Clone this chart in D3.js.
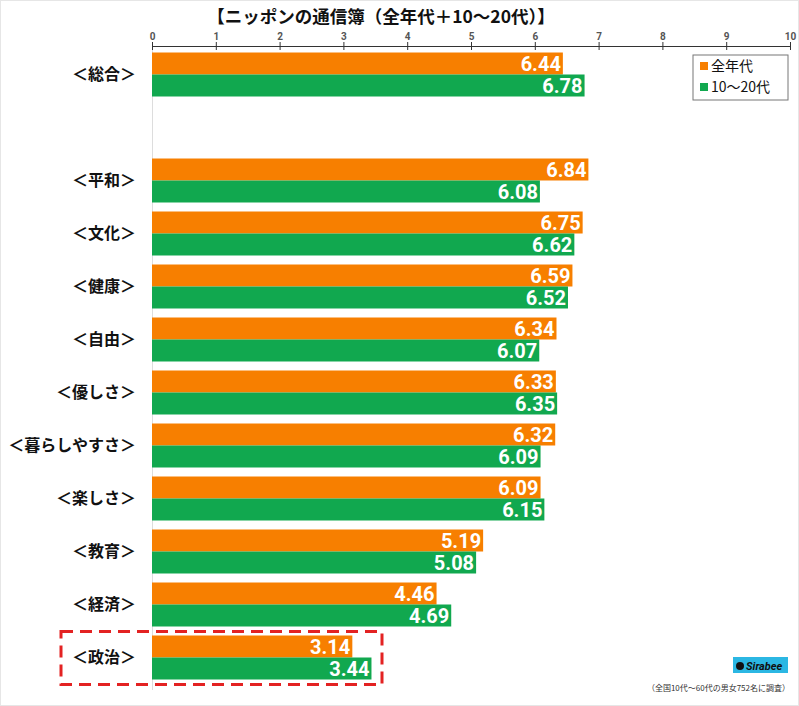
<!DOCTYPE html>
<html>
<head>
<meta charset="utf-8">
<script src="https://cdnjs.cloudflare.com/ajax/libs/d3/7.8.5/d3.min.js"></script>
<style>
body { margin: 0; background: #fff; }
text { font-family: "Noto Sans CJK JP", "Noto Sans", sans-serif; }
</style>
</head>
<body>
<div id="chart"></div>
<script>
// categories ("" is the blank slot under the total)
var categories = ["＜総合＞", "", "＜平和＞", "＜文化＞", "＜健康＞", "＜自由＞", "＜優しさ＞",
    "＜暮らしやすさ＞", "＜楽しさ＞", "＜教育＞", "＜経済＞", "＜政治＞"];
var allAges = [6.44, null, 6.84, 6.75, 6.59, 6.34, 6.33, 6.32, 6.09, 5.19, 4.46, 3.14];
var young = [6.78, null, 6.08, 6.62, 6.52, 6.07, 6.35, 6.09, 6.15, 5.08, 4.69, 3.44];
var seriesNames = ["全年代", "10〜20代"];
var ticks = [0, 1, 2, 3, 4, 5, 6, 7, 8, 9, 10];

var W = 799, H = 706;
var colors = ["#f77f00", "#11a84f"];

var svg = d3.select("#chart").append("svg")
    .attr("width", W).attr("height", H);

svg.append("rect").attr("x", 0.5).attr("y", 0.5).attr("width", W - 1).attr("height", H - 1)
    .attr("fill", "#fff").attr("stroke", "#e6e6e6");

var x = d3.scaleLinear().domain([0, 10]).range([152, 790]);
var y = d3.scaleBand().domain(d3.range(categories.length))
    .range([48, 48 + 53 * categories.length]).paddingInner(0.17).paddingOuter(0.085);
var sub = d3.scaleBand().domain([0, 1]).range([0, y.bandwidth()]);

// title
svg.append("text").attr("x", 381).attr("y", 23).attr("text-anchor", "middle")
    .attr("font-size", 17.5).attr("font-weight", "bold").attr("fill", "#111")
    .text("【ニッポンの通信簿（全年代＋10〜20代）】");

// left light axis line
svg.append("line").attr("x1", 152.5).attr("x2", 152.5).attr("y1", 46).attr("y2", 690)
    .attr("stroke", "#ddd");

// top axis
var axis = svg.append("g").attr("transform", "translate(0,46)")
    .call(d3.axisTop(x).tickValues(ticks).tickSize(4).tickPadding(2).tickSizeOuter(0));
axis.select(".domain").attr("stroke", "#333").attr("stroke-width", 1.2);
axis.selectAll(".tick line").attr("stroke", "#333").attr("y2", 4).attr("y1", -4);
axis.selectAll(".tick text").attr("font-size", 10).attr("font-weight", "bold")
    .attr("fill", "#555").style("font-family", "Roboto, sans-serif");

// bars
var series = [allAges, young];
series.forEach(function (vals, s) {
    var g = svg.append("g");
    var rows = vals.map(function (v, i) { return {v: v, i: i}; })
        .filter(function (d) { return d.v !== null; });
    g.selectAll("rect").data(rows).enter().append("rect")
        .attr("x", x(0))
        .attr("y", function (d) { return y(d.i) + sub(s); })
        .attr("width", function (d) { return x(d.v) - x(0); })
        .attr("height", sub.bandwidth())
        .attr("fill", colors[s]);
    g.selectAll("text").data(rows).enter().append("text")
        .attr("x", function (d) { return x(d.v) - 2; })
        .attr("y", function (d) { return y(d.i) + sub(s) + sub.bandwidth() / 2; })
        .attr("dy", "0.36em")
        .attr("text-anchor", "end")
        .attr("font-size", 20).attr("font-weight", "bold").attr("fill", "#fff")
        .style("font-family", "Roboto, 'Noto Sans', sans-serif")
        .text(function (d) { return d.v.toFixed(2); });
});

// category labels
svg.append("g").selectAll("text").data(categories).enter().append("text")
    .attr("x", 136)
    .attr("y", function (d, i) { return y(i) + y.bandwidth() / 2; })
    .attr("dy", "0.36em")
    .attr("text-anchor", "end")
    .attr("font-size", 16).attr("font-weight", "bold").attr("fill", "#111")
    .text(function (d) { return d; });

// legend
var lg = svg.append("g").attr("transform", "translate(693,55)");
lg.append("rect").attr("width", 95).attr("height", 45)
    .attr("fill", "#fff").attr("stroke", "#777");
seriesNames.forEach(function (n, i) {
    lg.append("rect").attr("x", 7).attr("y", 7 + i * 21).attr("width", 8).attr("height", 8)
        .attr("fill", colors[i]);
    lg.append("text").attr("x", 18).attr("y", 11 + i * 21).attr("dy", "0.36em")
        .attr("font-size", 14).attr("fill", "#111").text(n);
});

// highlight box around politics
var last = categories.length - 1;
svg.append("rect").attr("x", 61).attr("y", y(last) - 4)
    .attr("width", 321).attr("height", y.bandwidth() + 9)
    .attr("fill", "none").attr("stroke", "#e32222").attr("stroke-width", 3)
    .attr("stroke-dasharray", "12,7");

// logo
var logo = svg.append("g").attr("transform", "translate(733,657)");
logo.append("rect").attr("width", 55).attr("height", 16).attr("fill", "#2bb7e3");
logo.append("circle").attr("cx", 7).attr("cy", 9).attr("r", 4).attr("fill", "#111");
logo.append("text").attr("x", 13).attr("y", 12.5).attr("font-size", 11)
    .attr("font-style", "italic").attr("font-weight", "bold").attr("fill", "#111")
    .style("font-family", "Roboto, sans-serif").text("Sirabee");

svg.append("text").attr("x", 790).attr("y", 691).attr("text-anchor", "end")
    .attr("font-size", 8).attr("fill", "#333")
    .text("（全国10代〜60代の男女752名に調査）");
</script>
</body>
</html>
